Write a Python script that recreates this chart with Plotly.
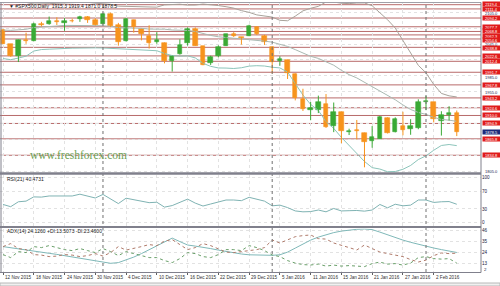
import plotly.graph_objects as go

# ---------------- data ----------------
bar_idx = list(range(60))
tick_bars = [0, 4, 8, 12, 16, 20, 24, 28, 32, 36, 40, 44, 48, 52, 56]
tick_labels = ["12 Nov 2015", "18 Nov 2015", "24 Nov 2015", "30 Nov 2015", "4 Dec 2015",
               "10 Dec 2015", "16 Dec 2015", "22 Dec 2015", "29 Dec 2015", "5 Jan 2016",
               "11 Jan 2016", "15 Jan 2016", "21 Jan 2016", "27 Jan 2016", "2 Feb 2016"]
month_sep_bars = [13, 35, 55]

opens = [2072.5, 2044.5, 2022.0, 2053.5, 2051.5, 2083.5, 2082.5, 2089.5, 2084.5, 2089.0,
         2091.5, 2096.5, 2090.5, 2083.0, 2101.5, 2080.5, 2051.0, 2090.5, 2073.5, 2061.0,
         2048.0, 2047.5, 2013.0, 2025.5, 2046.5, 2073.5, 2040.5, 2010.0, 2023.0, 2042.0,
         2063.5, 2058.0, 2060.5, 2077.5, 2060.5, 2040.0, 2013.5, 2015.0, 1989.0, 1941.0,
         1921.0, 1921.0, 1932.0, 1891.0, 1916.5, 1878.5, 1882.0, 1877.0, 1861.0, 1866.0,
         1906.0, 1878.5, 1890.5, 1884.0, 1886.0, 1935.5, 1935.0, 1899.0, 1911.5, 1915.3]
highs = [2073.5, 2045.0, 2053.5, 2066.5, 2085.5, 2087.0, 2097.0, 2095.5, 2094.0, 2093.0,
         2098.5, 2098.0, 2094.0, 2103.5, 2104.5, 2085.0, 2094.0, 2091.0, 2074.0, 2080.5,
         2067.5, 2048.0, 2023.0, 2054.0, 2076.5, 2076.5, 2041.0, 2023.0, 2042.5, 2064.5,
         2067.5, 2058.5, 2081.5, 2078.0, 2062.5, 2040.5, 2022.0, 2015.5, 1989.5, 1960.5,
         1935.5, 1947.5, 1950.5, 1934.5, 1917.0, 1885.0, 1901.5, 1877.5, 1890.0, 1909.0,
         1906.5, 1906.5, 1917.0, 1903.0, 1940.5, 1947.0, 1935.5, 1918.0, 1927.5, 1919.4]
lows = [2045.0, 2021.0, 2011.0, 2045.5, 2050.5, 2078.5, 2081.5, 2081.0, 2070.0, 2086.0,
        2087.0, 2085.0, 2080.0, 2082.0, 2077.0, 2042.0, 2050.0, 2066.5, 2052.0, 2036.5,
        2045.5, 2008.5, 1993.0, 2025.0, 2042.0, 2041.5, 2005.0, 2005.5, 2020.0, 2041.5,
        2058.5, 2044.0, 2060.0, 2062.0, 2043.5, 1989.5, 2004.0, 1979.0, 1938.5, 1918.5,
        1901.0, 1914.5, 1886.5, 1878.5, 1857.5, 1873.0, 1864.5, 1812.0, 1849.0, 1865.5,
        1876.0, 1878.0, 1872.5, 1873.5, 1884.0, 1920.0, 1897.0, 1872.0, 1900.5, 1871.0]
closes = [2045.5, 2022.5, 2053.0, 2050.0, 2083.5, 2081.0, 2089.0, 2086.5, 2089.0, 2088.5,
          2096.0, 2090.0, 2080.5, 2102.5, 2079.5, 2049.5, 2091.5, 2077.0, 2063.5, 2047.5,
          2052.0, 2012.5, 2022.0, 2043.5, 2073.0, 2042.0, 2005.5, 2021.0, 2039.0, 2064.0,
          2061.0, 2056.5, 2078.5, 2063.5, 2048.0, 2011.0, 2016.5, 1990.0, 1943.0, 1922.0,
          1923.5, 1935.0, 1889.0, 1917.0, 1880.0, 1880.0, 1881.5, 1859.5, 1869.0, 1906.5,
          1877.0, 1903.5, 1883.0, 1891.0, 1936.0, 1936.5, 1903.0, 1911.0, 1914.0, 1878.5]

bb_upper = [2125.2, 2126.3, 2125.3, 2123.7, 2120.6, 2120.6, 2121.3, 2122.1, 2123.3, 2123.2,
            2123.8, 2123.9, 2122.2, 2121.6, 2120.1, 2116.6, 2116.0, 2115.8, 2114.9, 2114.1,
            2114.8, 2119.1, 2120.0, 2120.3, 2118.7, 2118.8, 2120.6, 2119.7, 2117.8, 2115.6,
            2112.9, 2108.2, 2104.9, 2100.1, 2097.6, 2096.0, 2089.9, 2089.0, 2097.7, 2107.8,
            2112.6, 2116.3, 2124.5, 2124.4, 2122.1, 2121.4, 2122.6, 2122.7, 2117.4, 2104.4,
            2091.0, 2075.3, 2051.5, 2027.1, 2004.7, 1990.5, 1968.7, 1951.7, 1947.1, 1945.0]
bb_mid = [2071.4, 2070.9, 2071.9, 2072.9, 2076.2, 2077.6, 2078.3, 2079.1, 2080.3, 2080.2,
          2080.6, 2081.1, 2080.0, 2079.6, 2078.5, 2076.0, 2075.6, 2075.5, 2074.7, 2073.3,
          2073.6, 2073.1, 2071.6, 2071.2, 2070.7, 2068.8, 2064.6, 2061.3, 2058.8, 2057.6,
          2055.8, 2054.2, 2054.1, 2052.1, 2050.5, 2048.6, 2044.9, 2040.5, 2034.5, 2028.2,
          2021.8, 2017.9, 2011.3, 2005.0, 1995.3, 1987.2, 1981.0, 1972.9, 1964.4, 1956.5,
          1947.3, 1939.7, 1929.9, 1921.3, 1915.7, 1912.1, 1906.4, 1902.5, 1901.1, 1898.9]
bb_lower = [2017.6, 2015.5, 2018.5, 2022.1, 2031.8, 2034.6, 2035.3, 2036.1, 2037.3, 2037.2,
            2037.4, 2038.3, 2037.8, 2037.6, 2036.9, 2035.4, 2035.2, 2035.3, 2034.5, 2032.5,
            2032.4, 2027.1, 2023.2, 2022.2, 2022.7, 2018.8, 2008.6, 2002.9, 1999.8, 1999.6,
            1998.8, 2000.2, 2003.3, 2004.1, 2003.5, 2001.2, 1999.9, 1992.0, 1971.3, 1948.6,
            1931.0, 1919.5, 1898.1, 1885.6, 1868.5, 1853.0, 1839.4, 1823.1, 1811.4, 1808.7,
            1803.7, 1804.1, 1808.3, 1815.5, 1826.7, 1833.7, 1844.2, 1853.3, 1855.1, 1853.0]

rsi = [40.0, 35.0, 46.0, 47.5, 57.0, 56.5, 59.0, 59.5, 59.5, 59.0,
       63.0, 59.0, 54.5, 62.5, 51.5, 42.0, 54.0, 50.5, 47.0, 44.0,
       45.0, 34.0, 37.5, 44.0, 52.0, 43.0, 36.5, 41.0, 45.5, 50.0,
       50.0, 48.5, 56.0, 52.0, 47.5, 37.0, 38.5, 33.0, 25.5, 23.5,
       24.0, 27.5, 23.5, 31.0, 25.5, 26.0, 26.5, 25.0, 27.5, 40.0,
       32.5, 40.5, 37.0, 38.5, 50.0, 50.0, 44.5, 46.0, 46.5, 40.4731]

adx = [30.0, 29.0, 28.0, 27.0, 25.5, 24.5, 23.3, 22.2, 21.0, 19.8,
       18.7, 17.5, 16.3, 14.5, 13.3, 14.0, 16.5, 19.5, 23.0, 27.0,
       31.0, 35.0, 38.5, 35.0, 31.6, 30.5, 29.5, 28.0, 26.5, 25.0,
       23.8, 22.6, 21.8, 21.6, 21.5, 21.3, 21.8, 24.5, 28.5, 32.5,
       36.5, 39.5, 42.0, 44.0, 45.5, 46.5, 47.3, 47.6, 47.0, 44.5,
       41.6, 39.0, 36.5, 34.3, 32.2, 30.3, 28.6, 27.0, 25.5, 24.126]
plus_di = [22.0, 19.0, 25.0, 24.0, 30.0, 29.0, 31.0, 29.0, 27.0, 26.0,
           28.0, 26.0, 24.0, 28.0, 25.0, 21.0, 25.0, 23.0, 21.0, 19.0,
           19.0, 16.0, 14.0, 18.0, 24.0, 23.0, 20.0, 19.0, 22.0, 27.0,
           27.0, 26.0, 31.0, 29.0, 26.0, 21.6, 20.0, 16.0, 13.5, 12.0,
           11.6, 12.5, 10.5, 11.5, 10.5, 11.0, 10.5, 10.0, 13.0, 14.5,
           12.5, 13.0, 11.5, 13.6, 19.0, 20.0, 18.0, 17.5, 18.0, 13.5073]
minus_di = [30.0, 33.0, 28.0, 27.0, 22.0, 21.5, 20.0, 20.5, 22.0, 21.5,
            20.0, 21.0, 23.0, 20.5, 24.0, 30.0, 26.5, 28.0, 30.0, 32.0,
            31.0, 35.5, 37.0, 32.0, 27.0, 29.0, 33.0, 31.0, 28.0, 24.5,
            24.0, 25.0, 26.6, 27.0, 29.0, 36.6, 33.6, 36.5, 39.9, 41.0,
            41.6, 38.0, 37.5, 33.6, 31.0, 29.0, 26.6, 31.6, 28.0, 24.6,
            23.0, 21.6, 20.0, 17.0, 14.6, 16.5, 21.0, 23.6, 23.0, 23.46]

level_prices = [2119.4, 2111.4, 2094.2, 2077.7, 2068.8, 2062.3, 2054.6, 2038.8, 2022.6, 2012.4,
                1991.7, 1967.8, 1943.2, 1924.6, 1910.0, 1894.9, 1865.8, 1834.8]
price_ticks = [1805, 1835, 1865, 1895, 1925, 1955, 1985, 2015, 2045, 2075, 2105]
price_ticks_shown = [1805, 1955, 1985, 2045, 2105]
rsi_ticks = [0, 30, 70, 100]
adx_ticks = [13, 24, 35, 46]

# ---------------- styling ----------------
W, H = 500, 286
GREEN = "#3aaa35"
ORANGE = "#f7941d"
LEVEL = "#b86a6a"
FONT = "Liberation Sans"
# small vertical nudges (px, + is up) so stacked price labels do not collide
label_nudge = {2119.4: 0.6, 2111.4: -0.2, 2105: -1.0, 2068.8: 0.3, 2062.3: -0.6, 2054.6: -0.6,
               2045: -0.2, 2038.8: -1.0, 1985: -0.8}


def py(px):
    return 1 - px / H


XR = [-0.39, 62.15]
XDOM = [0, 481 / W]

fig = go.Figure()

fig.add_trace(go.Scatter(x=bar_idx, y=bb_upper, mode="lines", line=dict(color="#a8a29a", width=1),
                         xaxis="x", yaxis="y", hoverinfo="skip"))
fig.add_trace(go.Scatter(x=bar_idx, y=bb_mid, mode="lines", line=dict(color="#a9b9b2", width=1),
                         xaxis="x", yaxis="y", hoverinfo="skip"))
fig.add_trace(go.Scatter(x=bar_idx, y=bb_lower, mode="lines", line=dict(color="#8cc4ba", width=1),
                         xaxis="x", yaxis="y", hoverinfo="skip"))

for up, col in ((True, GREEN), (False, ORANGE)):
    wx, wy = [], []
    bx, bbase, bh = [], [], []
    for i in bar_idx:
        if (closes[i] >= opens[i]) == up:
            wx += [i, i, None]
            wy += [lows[i], highs[i], None]
            bx.append(i)
            bbase.append(min(opens[i], closes[i]))
            bh.append(abs(closes[i] - opens[i]))
    fig.add_trace(go.Scatter(x=wx, y=wy, mode="lines", line=dict(color=col, width=1),
                             xaxis="x", yaxis="y", hoverinfo="skip"))
    fig.add_trace(go.Bar(x=bx, y=bh, base=bbase, width=0.58,
                         marker=dict(color=col, line=dict(color=col, width=0.6)),
                         xaxis="x", yaxis="y", hoverinfo="skip"))

fig.add_trace(go.Scatter(x=bar_idx, y=rsi, mode="lines", line=dict(color="#7fb3b3", width=1),
                         xaxis="x2", yaxis="y2", hoverinfo="skip"))
fig.add_trace(go.Scatter(x=bar_idx, y=adx, mode="lines", line=dict(color="#7fb8b8", width=1),
                         xaxis="x3", yaxis="y3", hoverinfo="skip"))
fig.add_trace(go.Scatter(x=bar_idx, y=plus_di, mode="lines", line=dict(color="#6aa06a", width=1, dash="dot"),
                         xaxis="x3", yaxis="y3", hoverinfo="skip"))
fig.add_trace(go.Scatter(x=bar_idx, y=minus_di, mode="lines", line=dict(color="#b07a6a", width=1, dash="dot"),
                         xaxis="x3", yaxis="y3", hoverinfo="skip"))

shapes = []
for p in level_prices:
    shapes.append(dict(type="line", xref="paper", yref="y", x0=XDOM[0], x1=XDOM[1], y0=p, y1=p,
                       line=dict(color=LEVEL, width=1), layer="below"))
for b in month_sep_bars:
    shapes.append(dict(type="line", xref="x", yref="paper", x0=b, x1=b, y0=py(272), y1=py(3),
                       line=dict(color="#707070", width=1, dash="dot")))
for ypx, wd, colr in ((173.5, 2.5, "#80808c"), (227, 2, "#80808c"), (272.5, 1, "#80808c"),
                      (2.5, 1, "#a0a0a8")):
    shapes.append(dict(type="line", xref="paper", yref="paper", x0=0, x1=XDOM[1], y0=py(ypx), y1=py(ypx),
                       line=dict(color=colr, width=wd)))
shapes.append(dict(type="line", xref="paper", yref="paper", x0=XDOM[1], x1=XDOM[1], y0=py(272.5), y1=py(2.5),
                   line=dict(color="#80808c", width=1)))
shapes.append(dict(type="line", xref="paper", yref="paper", x0=0.002, x1=0.002, y0=py(272.5), y1=py(2.5),
                   line=dict(color="#80808c", width=1)))
shapes.append(dict(type="rect", xref="paper", yref="paper", x0=0, x1=1, y0=0, y1=py(283),
                   line=dict(color="#b8b8b8", width=1), fillcolor="#f0f0f0"))

annotations = []
LBLW = dict(family=FONT, size=4.0, color="white")
LBLD = dict(family=FONT, size=4.0, color="#1a1a50")
for v in price_ticks_shown:
    annotations.append(dict(xref="paper", yref="y", x=482 / W, y=v, xanchor="left", yanchor="middle",
                            yshift=label_nudge.get(v, 0), text=f"{v:.1f}", showarrow=False,
                            bgcolor="white", width=17, height=4, borderpad=0, font=LBLD))
for p in level_prices:
    annotations.append(dict(xref="paper", yref="y", x=482 / W, y=p, xanchor="left", yanchor="middle",
                            yshift=label_nudge.get(p, 0), text=f"{p:.1f}", showarrow=False,
                            bgcolor="#e01b1b", width=17, height=4, borderpad=0, font=LBLW))
annotations.append(dict(xref="paper", yref="y", x=482 / W, y=closes[-1], xanchor="left", yanchor="middle",
                        text=f"{closes[-1]:.1f}", showarrow=False, bgcolor="#1c2a7a", width=17, height=4,
                        borderpad=0, font=LBLW))
for b, t in zip(tick_bars, tick_labels):
    annotations.append(dict(xref="x3", yref="paper", x=b, y=py(277), xanchor="left", yanchor="middle",
                            text=t, showarrow=False, font=dict(family=FONT, size=4.6, color="#303030")))
SMALL = dict(family=FONT, size=5, color="#202020")
annotations.append(dict(xref="paper", yref="paper", x=7 / W, y=py(6.5), xanchor="left", yanchor="middle",
                        text=f"\u25bc #SPX500,Daily  {opens[-1]:.1f} {highs[-1]:.1f} {lows[-1]:.1f} {closes[-1]:.1f}",
                        showarrow=False, font=SMALL))
annotations.append(dict(xref="paper", yref="paper", x=5 / W, y=py(179), xanchor="left", yanchor="middle",
                        text=f"RSI(21) {rsi[-1]:.4f}", showarrow=False, font=SMALL))
annotations.append(dict(xref="paper", yref="paper", x=5 / W, y=py(230.5), xanchor="left", yanchor="middle",
                        text=f"ADX(14) {adx[-1]:.4f} +DI:{plus_di[-1]:.4f} -DI:{minus_di[-1]:.4f}",
                        showarrow=False, font=SMALL))
annotations.append(dict(xref="paper", yref="paper", x=482 / W, y=py(269.8), xanchor="left", yanchor="middle",
                        text="2", showarrow=False, font=dict(family=FONT, size=4.4, color="#202040")))
annotations.append(dict(xref="paper", yref="paper", x=28 / W, y=py(155), xanchor="left", yanchor="middle",
                        text="www.freshforex.com", showarrow=False,
                        font=dict(family="Liberation Serif", size=11.5, color="#6c9e52")))

grid = dict(showgrid=True, gridcolor="#e2e2e2", griddash="dot", gridwidth=1)
xcommon = dict(range=XR, domain=XDOM, tickvals=tick_bars, showticklabels=False, zeroline=False,
               automargin=False, fixedrange=True, **grid)
ycommon = dict(side="right", zeroline=False, automargin=False, ticks="", showline=False,
               tickfont=dict(family=FONT, size=4.6, color="#202040"), **grid)

fig.update_layout(
    width=W, height=H, margin=dict(l=0, r=0, t=0, b=0), template="none",
    paper_bgcolor="white", plot_bgcolor="white", showlegend=False, bargap=0,
    xaxis=dict(anchor="y", **xcommon),
    xaxis2=dict(anchor="y2", matches="x", **xcommon),
    xaxis3=dict(anchor="y3", matches="x", ticks="outside", ticklen=2, tickcolor="#606060", **xcommon),
    yaxis=dict(domain=[py(172.5), py(3)], range=[1802.2, 2122.6], tickvals=price_ticks,
               showticklabels=False, **ycommon),
    yaxis2=dict(domain=[py(226), py(175)], range=[-8.3, 106.05], tickvals=rsi_ticks,
                ticktext=[str(v) for v in rsi_ticks], **ycommon),
    yaxis3=dict(domain=[py(272.3), py(228.5)], range=[4.3, 48.1], tickvals=adx_ticks,
                ticktext=[str(v) for v in adx_ticks], **ycommon),
    shapes=shapes, annotations=annotations,
)

fig.write_html("out.html")
